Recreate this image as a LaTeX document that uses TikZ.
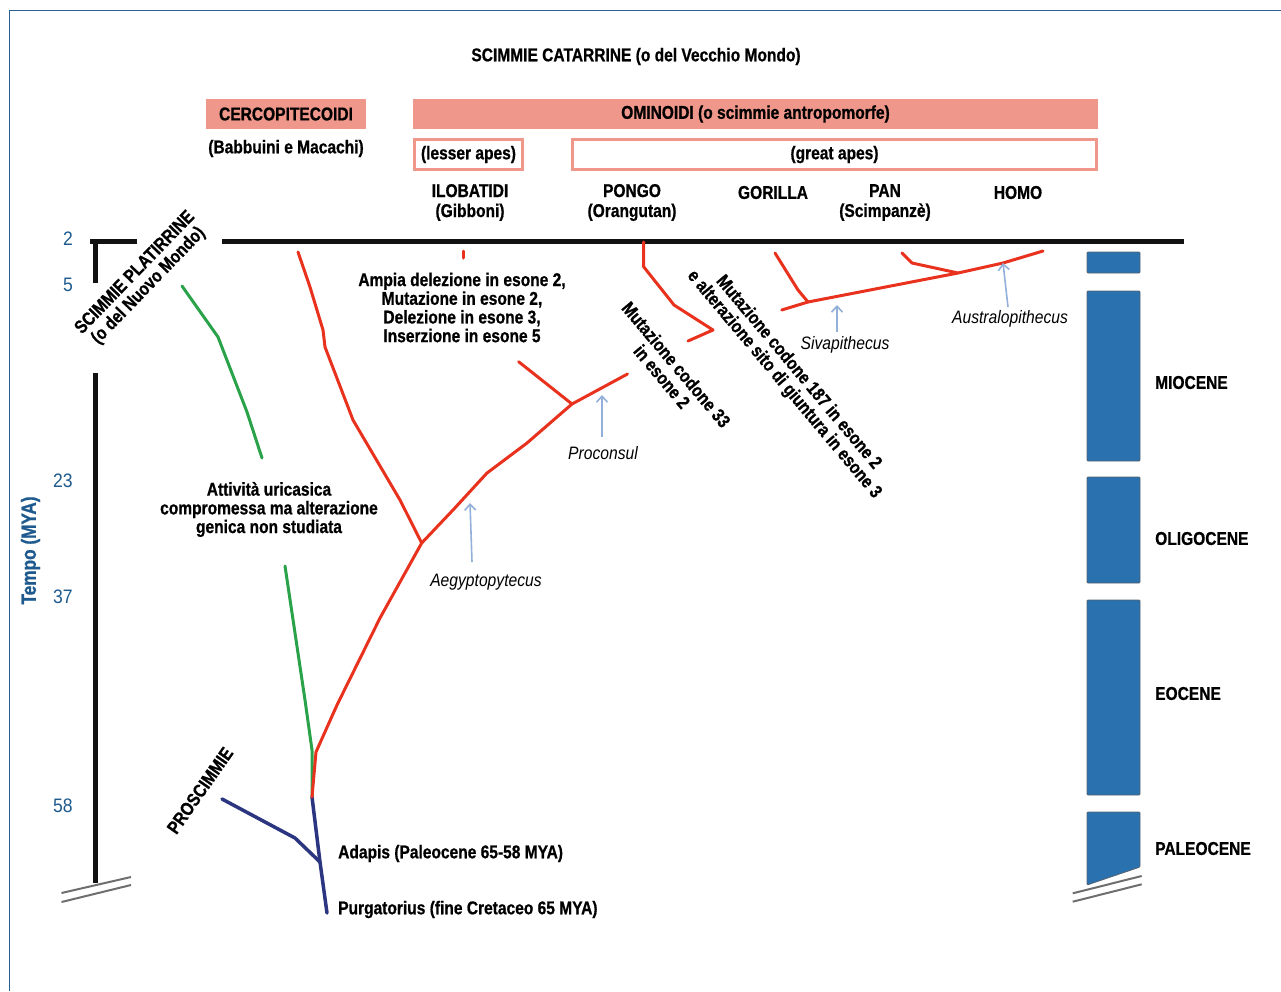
\documentclass[tikz,border=0pt]{standalone}
\usepackage{fontspec}
\setmainfont{Liberation Sans}[FakeStretch=0.84, BoldFeatures={FakeBold=0.8}]
\newfontfamily\numfont{Liberation Sans}[FakeStretch=0.9]
\newfontfamily\itfont{Liberation Sans}[FakeStretch=0.87]
\usetikzlibrary{arrows.meta}

\definecolor{frameblue}{HTML}{2A5F93}
\definecolor{axisblue}{HTML}{1E5A8E}
\definecolor{salmon}{HTML}{EF978A}
\definecolor{redline}{HTML}{E8321E}
\definecolor{greenline}{HTML}{2AA24A}
\definecolor{navyline}{HTML}{2B3580}
\definecolor{arrowblue}{HTML}{92B0DA}
\definecolor{barblue}{HTML}{2A71B0}
\definecolor{baredge}{HTML}{56626E}
\definecolor{breakgray}{HTML}{6E6E6E}

\begin{document}
\begin{tikzpicture}[x=1pt,y=-1pt,
  lbl/.style={font=\bfseries\fontsize{18.5}{18.7}\selectfont, align=center, inner sep=0pt, yshift=-1.5pt},
  taxon/.style={lbl, font=\bfseries\fontsize{18.5}{20}\selectfont},
  num/.style={font=\numfont\fontsize{19.5}{19.5}\selectfont, text=axisblue, inner sep=0pt},
  fossil/.style={font=\itfont\itshape\fontsize{18}{19}\selectfont, inner sep=0pt},
  band/.style={lbl, fill=salmon, minimum height=30pt, yshift=1.5pt},
  groupbox/.style={lbl, draw=salmon, line width=3pt, fill=white, minimum height=30pt, yshift=1.5pt},
  timeaxis/.style={line width=5pt, draw=black!93},
  breakmark/.style={line width=2pt, draw=breakgray},
  redbranch/.style={draw=redline, line width=3pt, line join=round, line cap=round},
  greenbranch/.style={draw=greenline, line width=3pt, line join=round, line cap=round},
  navybranch/.style={draw=navyline, line width=3.5pt, line join=round, line cap=round},
  fossilarrow/.style={draw=arrowblue, line width=1.6pt, -{Straight Barb[length=6pt,width=11pt]}},
  epoch/.style={fill=barblue, draw=baredge, line width=0.8pt, rounded corners=1pt},
  epochlbl/.style={lbl, anchor=west}]

\useasboundingbox (0,0) rectangle (1281,991);

% outer frame
\draw[frameblue, line width=1.8pt] (9.5,991) -- (9.5,10.5) -- (1281,10.5);

% headings
\node[lbl] (title) at (636,55) {SCIMMIE CATARRINE (o del Vecchio Mondo)};
\node[band, minimum width=160pt] (cerco) at (286,114) {CERCOPITECOIDI};
\node[lbl] (cercosub) at (286,147) {(Babbuini e Macachi)};
\node[band, minimum width=685pt] (omin) at (755.5,114) {OMINOIDI (o scimmie antropomorfe)};
\node[groupbox, minimum width=108pt] (lesser) at (468.5,154.5) {(lesser apes)};
\node[groupbox, minimum width=524pt] (great) at (834.5,154.5) {(great apes)};

\node[taxon] (ilob) at (470,201) {ILOBATIDI\\(Gibboni)};
\node[taxon] (pongo) at (632,201) {PONGO\\(Orangutan)};
\node[taxon] (gorilla) at (773,191) {GORILLA};
\node[taxon] (pan) at (885,201) {PAN\\(Scimpanzè)};
\node[taxon] (homo) at (1018,191) {HOMO};

% time axis
\node[num] (t2) at (68,239) {2};
\node[num] (t5) at (68,285) {5};
\node[num] (t23) at (63,481) {23};
\node[num] (t37) at (63,597) {37};
\node[num] (t58) at (63,806) {58};
\node[lbl, text=axisblue, font=\bfseries\fontsize{20.5}{21}\selectfont, rotate=90, yshift=1.5pt] (tempo) at (32,549) {Tempo (MYA)};

\coordinate (axcornerL) at (90,241.5);
\coordinate (axcornerR) at (137,241.5);
\coordinate (axtop) at (95,241.5);
\coordinate (axgapA) at (95,283);
\coordinate (axgapB) at (95,373);
\coordinate (axbot) at (95,883);
\coordinate (presentL) at (222,241.5);
\coordinate (presentR) at (1184,241.5);
\draw[timeaxis] (axcornerL) -- (axcornerR);
\draw[timeaxis] (axtop) -- (axgapA);
\draw[timeaxis] (axgapB) -- (axbot);
\draw[timeaxis] (presentL) -- (presentR);
\draw[breakmark] (61.5,893) -- (131,877);
\draw[breakmark] (61.5,902) -- (131,885);

% side labels
\node[lbl, rotate=46] (platir) at (142,278) {SCIMMIE PLATIRRINE\\(o del Nuovo Mondo)};
\node[lbl, rotate=55] (prosc) at (200,789) {PROSCIMMIE};

% tree junctions
\coordinate (root) at (312,797);
\coordinate (adapisJ) at (320,862);
\coordinate (cercoJ) at (421.7,543);
\coordinate (proconJ) at (572,404);
\coordinate (siwaJ) at (808,302);
\coordinate (panJ) at (958,273);

% green lineage (New World monkeys)
\draw[greenbranch] (182,286) -- (218,337) -- (247,412) -- (262,458);
\draw[greenbranch] (285,566) -- (305,700) -- (312,750) -- (root);

% navy lineage (prosimians)
\draw[navybranch] (root) -- (adapisJ) -- (327,913);
\draw[navybranch] (adapisJ) -- (295,838) -- (222,799);

% red lineage (Old World monkeys and apes)
\draw[redbranch] (root) -- (316,752) -- (337,705) -- (380,618) -- (cercoJ)
  -- (453,510) -- (487,473) -- (527,443) -- (proconJ) -- (627.5,374);
\draw[redbranch] (cercoJ) -- (400,500) -- (353,420) -- (325,347) -- (323,330) -- (310,287) -- (298,252);
\draw[redbranch] (proconJ) -- (518.6,361.7);
\draw[redbranch] (463,251) -- (463,258);
\draw[redbranch] (643.6,242) -- (643.6,266.7) -- (674,305) -- (713,330) -- (688,341);
\draw[redbranch] (775,253) -- (798,290) -- (siwaJ);
\draw[redbranch] (781.7,310) -- (siwaJ) -- (panJ) -- (1003,263) -- (1043,251);
\draw[redbranch] (902,253) -- (912,263) -- (panJ);

% notes
\node[lbl] (ampia) at (462,306) {Ampia delezione in esone 2,\\Mutazione in esone 2,\\Delezione in esone 3,\\Inserzione in esone 5};
\node[lbl] (uric) at (269,508) {Attività uricasica\\compromessa ma alterazione\\genica non studiata};
\node[lbl, rotate=-50, yshift=1.5pt] (mut33) at (668,370) {Mutazione codone 33\\in esone 2};
\node[lbl, rotate=-50, yshift=1.5pt] (mut187) at (790,378) {Mutazione codone 187 in esone 2\\e alterazione sito di giuntura in esone 3};

% fossils
\node[fossil] (aegy) at (486,582) {Aegyptopytecus};
\node[fossil] (procon) at (603,453) {Proconsul};
\node[fossil] (siva) at (845,345) {Sivapithecus};
\node[fossil] (austr) at (1010,319) {Australopithecus};
\coordinate (aegyT) at (470,503);
\coordinate (proconT) at (602,395);
\coordinate (sivaT) at (837,305);
\coordinate (austrT) at (1003,263);
\draw[fossilarrow] (472,562) -- (aegyT);
\draw[fossilarrow] (602,437) -- (proconT);
\draw[fossilarrow] (837,332) -- (sivaT);
\draw[fossilarrow] (1008,307) -- (austrT);

% base labels
\node[lbl, anchor=west] (adapis) at (338,852) {Adapis (Paleocene 65-58 MYA)};
\node[lbl, anchor=west] (purga) at (338,908) {Purgatorius (fine Cretaceo 65 MYA)};

% epoch column
\draw[epoch] (1087,252) rectangle (1140,273);
\draw[epoch] (1087,291) rectangle (1140,461);
\draw[epoch] (1087,477) rectangle (1140,583);
\draw[epoch] (1087,600) rectangle (1140,795);
\draw[epoch] (1087,812) -- (1140,812) -- (1140,867) -- (1087,885) -- cycle;
\draw[breakmark] (1072.7,893.3) -- (1141.7,876);
\draw[breakmark] (1072.7,901.7) -- (1141.7,884.3);
\node[epochlbl] (mio) at (1155,381) {MIOCENE};
\node[epochlbl] (oligo) at (1155,537) {OLIGOCENE};
\node[epochlbl] (eo) at (1155,692) {EOCENE};
\node[epochlbl] (paleo) at (1155,847) {PALEOCENE};
\end{tikzpicture}
\end{document}
